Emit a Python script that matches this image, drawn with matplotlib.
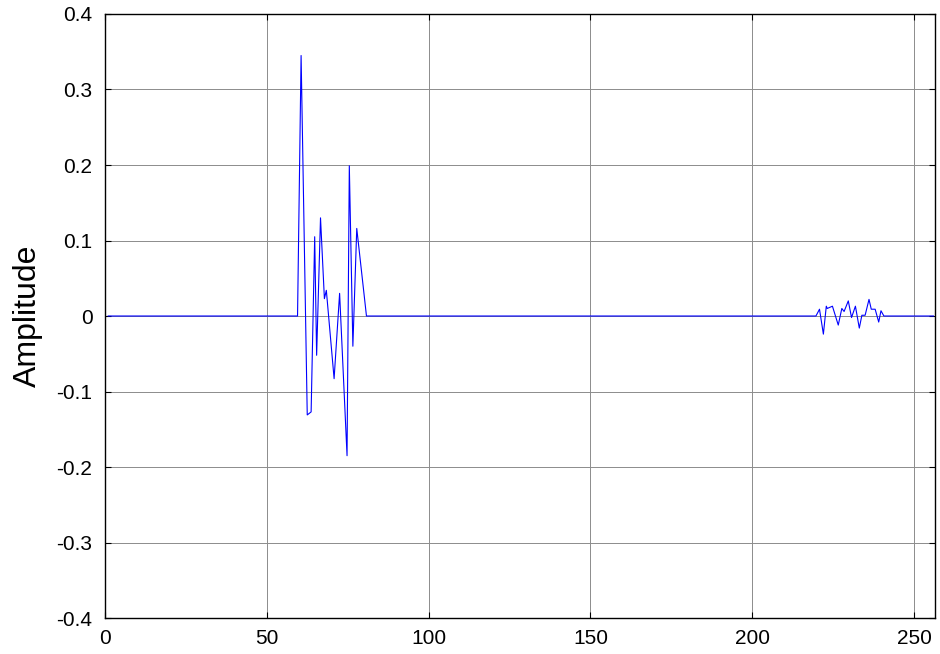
import matplotlib.pyplot as plt

plt.rcParams['font.family'] = ['Liberation Sans', 'DejaVu Sans']

# sample positions and amplitude, zero outside the two bursts
t = [1, 59.5, 60.6, 62.5, 63.7, 64.8, 65.4, 66.6, 67.8, 68.4, 70.8, 72.5, 74.8,
     75.5, 76.6, 77.8, 80.8,
     219.7, 220.8, 222.0, 222.9, 223.2, 224.8, 226.6, 227.7, 228.4, 229.7, 230.7,
     231.9, 233.1, 233.9, 234.9, 236.1, 236.8, 238.0, 239.1, 239.8, 240.7, 256]
amp = [0, 0, 0.345, -0.131, -0.127, 0.105, -0.052, 0.130, 0.023, 0.034, -0.083,
       0.030, -0.185, 0.199, -0.040, 0.116, 0,
       0, 0.009, -0.024, 0.013, 0.010, 0.013, -0.012, 0.010, 0.006, 0.020, -0.002,
       0.013, -0.016, 0.001, 0.001, 0.022, 0.009, 0.009, -0.008, 0.007, 0, 0]

xticks = [0, 50, 100, 150, 200, 250]
yticks = [-0.4, -0.3, -0.2, -0.1, 0, 0.1, 0.2, 0.3, 0.4]
ylabels = ['-0.4', '-0.3', '-0.2', '-0.1', '0', '0.1', '0.2', '0.3', '0.4']

fig = plt.figure(figsize=(9.4, 6.54), dpi=100)
ax = fig.add_axes([0.1117, 0.055, 0.883, 0.9236])

ax.plot(t, amp, color='#0000ff', lw=0.8)

ax.set_xlim(0, 256.5)
ax.set_ylim(-0.4, 0.4)
ax.set_xticks(xticks)
ax.set_yticks(yticks)
ax.set_yticklabels(ylabels)
ax.grid(True, color='#8c8c8c', lw=0.7)
ax.tick_params(direction='in', top=True, right=True, length=4, width=0.8,
               labelsize=15)
ax.tick_params(axis='x', pad=8)
ax.tick_params(axis='y', pad=9)
for s in ax.spines.values():
    s.set_linewidth(1.0)
ax.set_ylabel('Amplitude', fontsize=23, labelpad=10)

fig.savefig('out.png', dpi=100)
